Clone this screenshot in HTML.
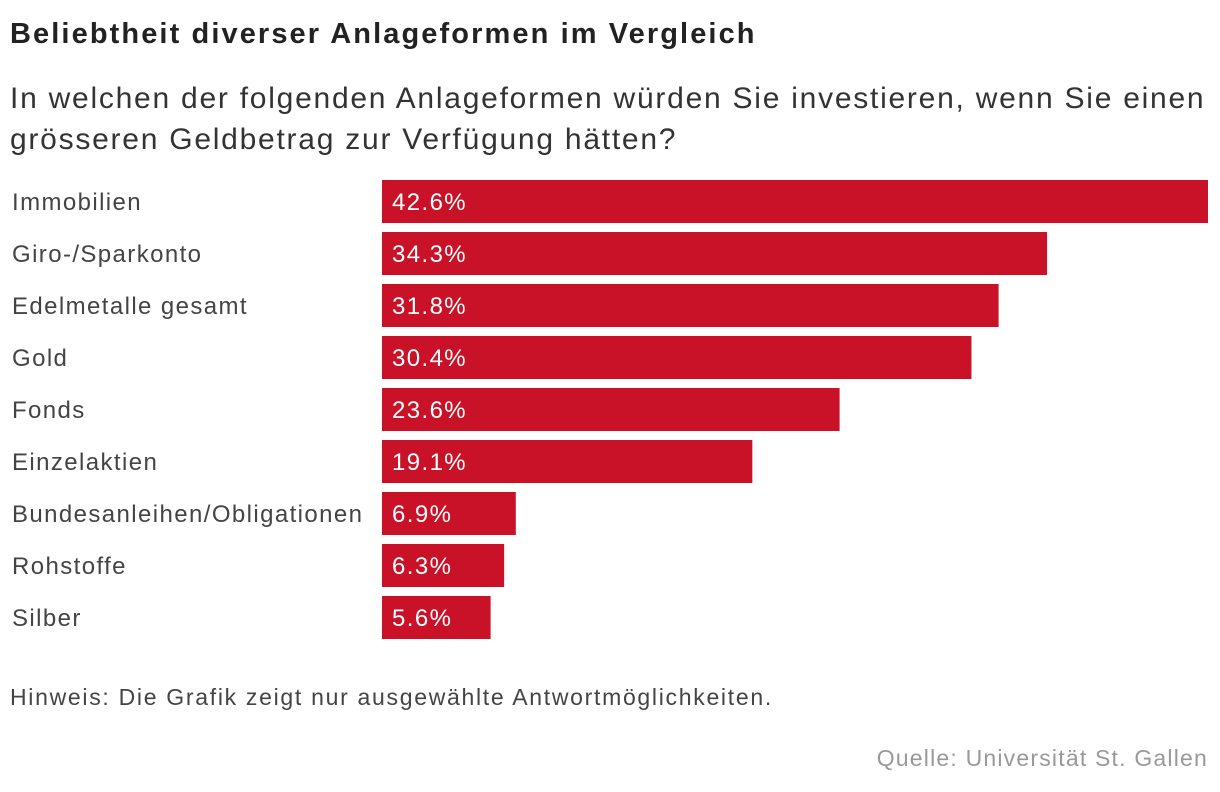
<!DOCTYPE html>
<html><head><meta charset="utf-8">
<style>
body{margin:0;width:1220px;height:792px;background:#fff;font-family:"Liberation Sans",sans-serif;color:#222;position:relative;overflow:hidden}
.t{position:absolute;white-space:nowrap}
</style></head>
<body>
<div class="t" style="left:10px;top:18px;font-size:29px;font-weight:bold;color:#222;letter-spacing:2.1px">Beliebtheit diverser Anlageformen im Vergleich</div>
<div class="t" style="left:10px;top:78px;font-size:30px;line-height:41px;color:#333;letter-spacing:1.75px">In welchen der folgenden Anlageformen würden Sie investieren, wenn Sie einen<br>grösseren Geldbetrag zur Verfügung hätten?</div>
<svg id="chart" width="1220" height="792" style="position:absolute;left:0;top:0"></svg>
<div class="t" style="left:10px;top:684px;font-size:23px;color:#444;letter-spacing:1.7px">Hinweis: Die Grafik zeigt nur ausgewählte Antwortmöglichkeiten.</div>
<div class="t" style="right:12px;top:745px;font-size:23px;color:#999;letter-spacing:1.2px">Quelle: Universität St. Gallen</div>
<script>
const categories=["Immobilien","Giro-/Sparkonto","Edelmetalle gesamt","Gold","Fonds","Einzelaktien","Bundesanleihen/Obligationen","Rohstoffe","Silber"];
const values=[42.6,34.3,31.8,30.4,23.6,19.1,6.9,6.3,5.6];
const valueLabels=["42.6%","34.3%","31.8%","30.4%","23.6%","19.1%","6.9%","6.3%","5.6%"];
const svg=document.getElementById('chart');
const NS="http://www.w3.org/2000/svg";
const x0=382,x1=1208,maxV=42.6;
function xs(v){return (v/maxV)*(x1-x0);}
function ys(i){return 180+i*52;}
categories.forEach((c,i)=>{
  const y=ys(i);
  const lab=document.createElementNS(NS,'text');
  
  
  lab.setAttribute('x',12);lab.setAttribute('y',y+30);
  lab.setAttribute('font-size','24');lab.setAttribute('fill','#444');
  lab.setAttribute('letter-spacing','1.4');
  lab.setAttribute('font-family','Liberation Sans, sans-serif');
  lab.textContent=c;svg.appendChild(lab);
  const r=document.createElementNS(NS,'rect');
  
  
  r.setAttribute('x',x0);r.setAttribute('y',y);
  r.setAttribute('width',xs(values[i]));r.setAttribute('height',43);
  r.setAttribute('fill','#c91228');svg.appendChild(r);
  const v=document.createElementNS(NS,'text');
  
  
  v.setAttribute('x',x0+10);v.setAttribute('y',y+30);
  v.setAttribute('font-size','24');v.setAttribute('fill','#fff');
  v.setAttribute('letter-spacing','1.4');
  v.setAttribute('font-family','Liberation Sans, sans-serif');
  v.textContent=valueLabels[i];svg.appendChild(v);
});
</script>
</body></html>
